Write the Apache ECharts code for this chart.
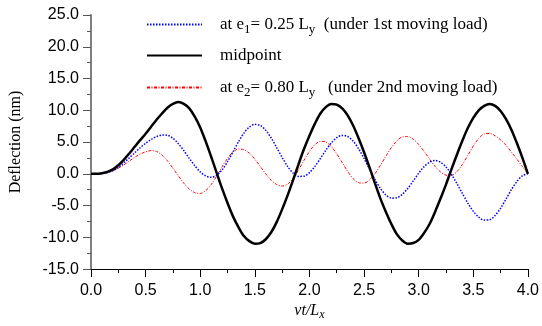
<!DOCTYPE html>
<html>
<head>
<meta charset="utf-8">
<script src="https://cdn.jsdelivr.net/npm/echarts/dist/echarts.min.js"></script>
<style>
  html, body { margin: 0; padding: 0; background: #fff; }
  #chart { width: 542px; height: 326px; }
</style>
</head>
<body>
<div id="chart"></div>
<script>
// vt/Lx sample positions
const xs = [
  0.00, 0.05, 0.10, 0.15, 0.20, 0.25, 0.30, 0.35, 0.40, 0.45,
  0.50, 0.55, 0.60, 0.65, 0.70, 0.75, 0.80, 0.85, 0.90, 0.95,
  1.00, 1.05, 1.10, 1.15, 1.20, 1.25, 1.30, 1.35, 1.40, 1.45,
  1.50, 1.55, 1.60, 1.65, 1.70, 1.75, 1.80, 1.85, 1.90, 1.95,
  2.00, 2.05, 2.10, 2.15, 2.20, 2.25, 2.30, 2.35, 2.40, 2.45,
  2.50, 2.55, 2.60, 2.65, 2.70, 2.75, 2.80, 2.85, 2.90, 2.95,
  3.00, 3.05, 3.10, 3.15, 3.20, 3.25, 3.30, 3.35, 3.40, 3.45,
  3.50, 3.55, 3.60, 3.65, 3.70, 3.75, 3.80, 3.85, 3.90, 3.95,
  4.00
];

// deflection at e1 = 0.25 Ly (nm)
const underLoad1 = [
  0, 0.0, 0.05, 0.2, 0.5, 1.0, 1.7, 2.5, 3.3, 4.1,
  4.8, 5.4, 5.85, 6.1, 6.07, 5.6, 4.75, 3.65, 2.43, 1.27,
  0.30, -0.33, -0.55, -0.26, 0.61, 1.91, 3.46, 5.03, 6.40, 7.37,
  7.79, 7.61, 6.85, 5.64, 4.14, 2.58, 1.17, 0.12, -0.41, -0.37,
  0.19, 1.17, 2.41, 3.71, 4.86, 5.69, 6.05, 5.87, 5.14, 3.95,
  2.42, 0.75, -0.89, -2.30, -3.32, -3.83, -3.78, -3.24, -2.31, -1.14,
  0.08, 1.13, 1.84, 2.09, 1.83, 1.08, -0.09, -1.53, -3.09, -4.60,
  -5.89, -6.83, -7.29, -7.23, -6.57, -5.42, -3.97, -2.48, -1.19, -0.31,
  0
];

// deflection at the midpoint (nm)
const midpoint = [
  0, 0.0, 0.1, 0.3, 0.7, 1.35, 2.2, 3.2, 4.25, 5.3,
  6.3, 7.4, 8.5, 9.5, 10.4, 11.0, 11.3, 11.0, 10.3, 9.0,
  7.3, 5.1, 2.7, 0.2, -2.3, -4.6, -6.7, -8.4, -9.8, -10.6,
  -11.0, -10.9, -10.3, -9.2, -7.6, -5.6, -3.4, -1.0, 1.5, 3.9,
  6.0, 7.9, 9.5, 10.5, 11.0, 10.9, 10.3, 9.2, 7.6, 5.6,
  3.4, 1.0, -1.5, -3.9, -6.0, -7.9, -9.5, -10.5, -11.0, -10.9,
  -10.4, -9.3, -7.9, -6.0, -3.9, -1.7, 0.7, 3.0, 5.2, 7.2,
  8.8, 10.0, 10.7, 11.0, 10.7, 9.9, 8.6, 6.9, 4.8, 2.5,
  0
];

// deflection at e2 = 0.80 Ly (nm)
const underLoad2 = [
  0, 0.0, 0.05, 0.2, 0.5, 0.9, 1.4, 2.0, 2.6, 3.1,
  3.45, 3.65, 3.52, 2.95, 2.04, 0.89, -0.33, -1.48, -2.39, -2.96,
  -3.09, -2.66, -1.70, -0.38, 1.08, 2.43, 3.43, 3.90, 3.80, 3.24,
  2.31, 1.17, -0.01, -1.02, -1.69, -1.93, -1.62, -0.72, 0.61, 2.12,
  3.53, 4.59, 5.11, 5.00, 4.30, 3.15, 1.76, 0.38, -0.75, -1.39,
  -1.46, -0.96, 0.02, 1.34, 2.78, 4.13, 5.19, 5.80, 5.86, 5.44,
  4.62, 3.52, 2.32, 1.18, 0.29, -0.21, -0.25, 0.34, 1.46, 2.90,
  4.37, 5.57, 6.28, 6.35, 6.0, 5.35, 4.5, 3.4, 2.3, 1.15,
  0
];

const legendLabels = {
  e1: 'at e{sub|1}= 0.25 L{sub|y}  (under 1st moving load)',
  mid: 'midpoint',
  e2: 'at e{sub|2}= 0.80 L{sub|y}   (under 2nd moving load)'
};

const serif = '"Liberation Serif", "Times New Roman", serif';
const sans = '"Liberation Sans", Arial, sans-serif';

const pairs = (ys) => xs.map((x, i) => [x, ys[i]]);

const legendFor = (name, top) => ({
  data: [name],
  left: 146,
  top: top,
  padding: 0,
  itemWidth: 55,
  itemHeight: 10,
  selectedMode: false,
  itemStyle: { opacity: 0 },
  formatter: (n) => legendLabels[n],
  textStyle: {
    fontFamily: serif,
    fontSize: 17,
    color: '#000',
    padding: [0, 0, 0, 13],
    rich: {
      sub: { fontFamily: serif, fontSize: 13, color: '#000', padding: [10, 0, 0, 0] }
    }
  }
});

const chart = echarts.init(document.getElementById('chart'));

chart.setOption({
  animation: false,
  grid: { left: 90, right: 14, top: 15, bottom: 49 },
  legend: [
    legendFor('e1', 16),
    legendFor('mid', 47),
    legendFor('e2', 79)
  ],
  xAxis: {
    type: 'value',
    min: 0,
    max: 4,
    interval: 0.5,
    name: 'vt/L{sub|x}',
    nameLocation: 'middle',
    nameGap: 31,
    nameTextStyle: {
      fontFamily: serif,
      fontStyle: 'italic',
      fontSize: 16,
      color: '#000',
      rich: {
        sub: { fontFamily: serif, fontStyle: 'italic', fontSize: 12, color: '#000', padding: [8, 0, 0, 0] }
      }
    },
    axisLine: { onZero: false, lineStyle: { color: '#000', width: 1 } },
    axisTick: { length: 8, lineStyle: { color: '#000' } },
    minorTick: { show: true, splitNumber: 2, length: 4, lineStyle: { color: '#000' } },
    splitLine: { show: false },
    axisLabel: {
      formatter: (v) => v.toFixed(1),
      fontFamily: sans,
      fontSize: 16,
      color: '#000',
      margin: 13
    }
  },
  yAxis: {
    type: 'value',
    min: -15,
    max: 25,
    interval: 5,
    name: 'Deflection (nm)',
    nameLocation: 'middle',
    nameGap: 67,
    nameTextStyle: { fontFamily: serif, fontSize: 16, color: '#000' },
    axisLine: { show: true, lineStyle: { color: '#808080', width: 2 } },
    axisTick: { show: true, length: 8, lineStyle: { color: '#555' } },
    minorTick: { show: true, splitNumber: 2, length: 4, lineStyle: { color: '#555' } },
    splitLine: { show: false },
    axisLabel: {
      formatter: (v) => v.toFixed(1),
      fontFamily: sans,
      fontSize: 16,
      color: '#000',
      margin: 12
    }
  },
  series: [
    {
      name: 'e1',
      type: 'line',
      data: pairs(underLoad1),
      symbol: 'none',
      smooth: 0.3,
      z: 3,
      itemStyle: { color: '#0000ff' },
      lineStyle: { color: '#0000ff', width: 1.5, type: [1.5, 1.5] }
    },
    {
      name: 'mid',
      type: 'line',
      data: pairs(midpoint),
      symbol: 'none',
      smooth: 0.3,
      z: 4,
      itemStyle: { color: '#000' },
      lineStyle: { color: '#000', width: 2.5 }
    },
    {
      name: 'e2',
      type: 'line',
      data: pairs(underLoad2),
      symbol: 'none',
      smooth: 0.3,
      z: 2,
      itemStyle: { color: '#ff0000' },
      lineStyle: { color: '#ff0000', width: 1, type: [3, 1.5, 1, 1.5] }
    }
  ]
});
</script>
</body>
</html>
